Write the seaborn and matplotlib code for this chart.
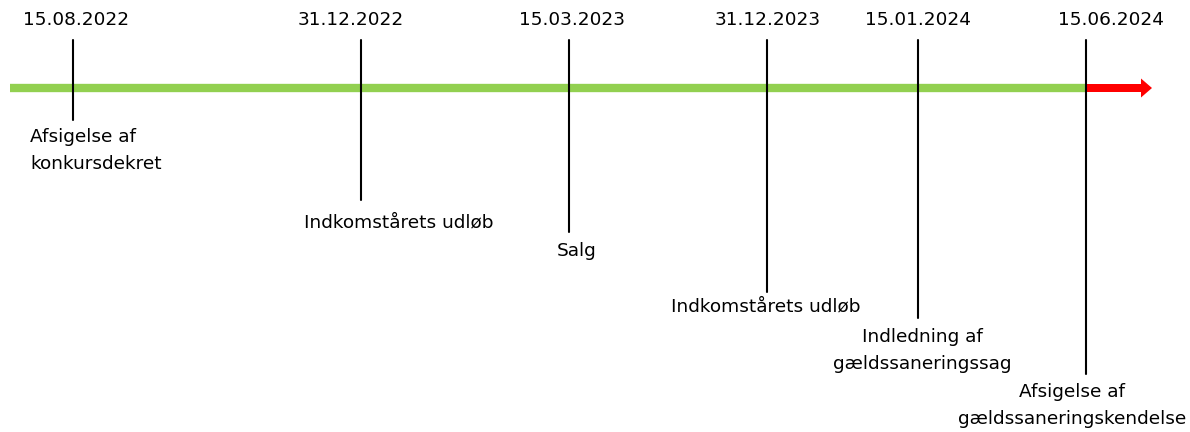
import numpy as np
import pandas as pd
import matplotlib.pyplot as plt
import seaborn as sns

# events on the timeline
dates = ['15.08.2022', '31.12.2022', '15.03.2023', '31.12.2023', '15.01.2024', '15.06.2024']
events = ['Afsigelse af\nkonkursdekret', 'Indkomstårets udløb', 'Salg',
          'Indkomstårets udløb', 'Indledning af\ngældssaneringssag',
          'Afsigelse af\ngældssaneringskendelse']

# layout (pixel coordinates of the 1190x432 canvas)
tick_x = [73, 361, 569, 767, 918, 1086]
date_x = [76, 351, 572, 768, 918, 1111]
label_x = [30, 399, 577, 766, 922, 1072]
label_ha = ['left', 'center', 'center', 'center', 'center', 'center']
tick_bottom = [120, 200, 232, 292, 318, 374]
label_y = [137, 222, 251, 306, 337, 392]
line_y = 88
green_span = [10, 1086]
red_end = 1152

sns.set_theme(style='white')
plt.rcParams['font.family'] = ['DejaVu Sans']

fig = plt.figure(figsize=(11.9, 4.32), dpi=100)
ax = fig.add_axes([0, 0, 1, 1])
ax.set_xlim(0, 1190)
ax.set_ylim(432, 0)
ax.axis('off')

# green timeline
span = pd.DataFrame({'x': green_span, 'y': [line_y, line_y]})
sns.lineplot(data=span, x='x', y='y', color='#92D050', linewidth=6,
             solid_capstyle='butt', ax=ax, zorder=2)

# red arrow for the time after the last event
ax.arrow(green_span[1], line_y, red_end - green_span[1], 0, width=8,
         head_width=19, head_length=11, length_includes_head=True,
         color='#FF0000', linewidth=0, zorder=3)

for i, (d, ev) in enumerate(zip(dates, events)):
    ax.plot([tick_x[i], tick_x[i]], [40, tick_bottom[i]], color='black',
            linewidth=1.5, zorder=4)
    ax.text(date_x[i], 20, d, ha='center', va='center', fontsize=13.3,
            color='black')
    for j, part in enumerate(ev.split('\n')):
        ax.text(label_x[i], label_y[i] + 27 * j, part, ha=label_ha[i],
                va='center', fontsize=13.3, color='black')

fig.savefig('out.png', dpi=100)
